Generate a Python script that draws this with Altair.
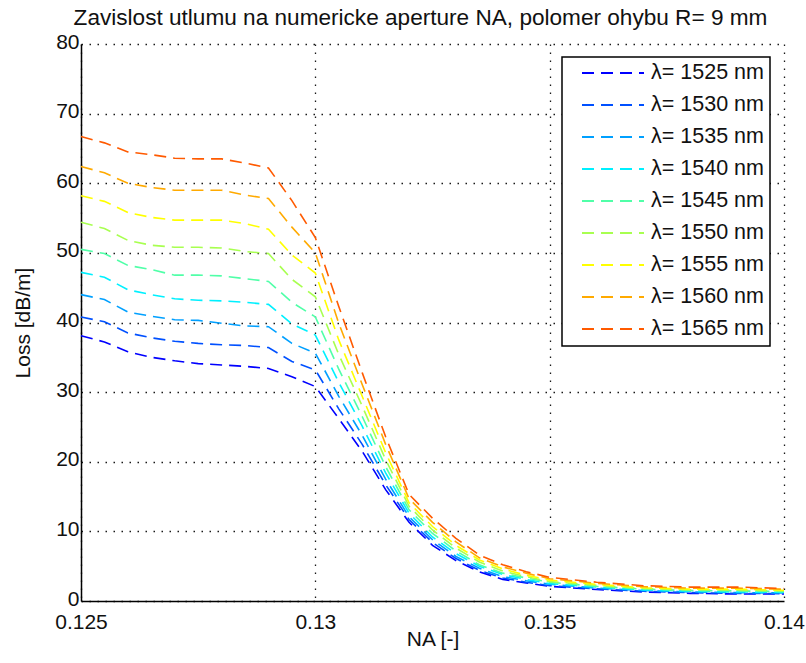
import altair as alt
import pandas as pd

# Numerical aperture samples
na = [0.125, 0.1255, 0.126, 0.1265, 0.127, 0.1275, 0.128, 0.1285, 0.129, 0.1295,
      0.13, 0.1305, 0.131, 0.1315, 0.132, 0.1325, 0.133, 0.1335, 0.134, 0.1345,
      0.135, 0.136, 0.137, 0.138, 0.139, 0.14]

wavelengths = [1525, 1530, 1535, 1540, 1545, 1550, 1555, 1560, 1565]

# Bending loss [dB/m] for each wavelength, R = 9 mm
loss_1525 = [38.1, 37.2, 35.8, 35.0, 34.5, 34.1, 33.9, 33.7, 33.4, 32.2,
             30.8, 26.2, 21.5, 16.0, 11.3, 8.0, 5.8, 4.2, 3.1, 2.6,
             2.1, 1.65, 1.3, 1.1, 1.0, 1.0]
loss_1530 = [40.8, 40.1, 38.5, 37.8, 37.3, 37.0, 36.8, 36.7, 36.4, 34.4,
             33.2, 27.6, 22.5, 16.7, 11.7, 8.4, 6.1, 4.4, 3.3, 2.7,
             2.2, 1.75, 1.4, 1.2, 1.1, 1.05]
loss_1535 = [44.0, 43.3, 41.5, 40.9, 40.4, 40.3, 39.9, 39.5, 39.4, 37.0,
             35.6, 29.4, 23.8, 17.5, 12.1, 8.8, 6.4, 4.7, 3.5, 2.9,
             2.4, 1.85, 1.5, 1.3, 1.2, 1.15]
loss_1540 = [47.2, 46.5, 44.7, 44.0, 43.4, 43.2, 43.1, 42.9, 42.6, 39.8,
             38.2, 31.4, 25.1, 18.4, 12.6, 9.2, 6.8, 5.0, 3.8, 3.1,
             2.5, 2.0, 1.6, 1.4, 1.3, 1.25]
loss_1545 = [50.5, 49.9, 48.2, 47.6, 46.8, 46.8, 46.7, 46.3, 45.9, 42.9,
             40.8, 33.3, 26.5, 19.3, 13.1, 9.7, 7.2, 5.2, 4.0, 3.3,
             2.7, 2.1, 1.7, 1.5, 1.45, 1.35]
loss_1550 = [54.4, 53.5, 51.8, 51.1, 50.8, 50.8, 50.7, 50.2, 49.9, 46.2,
             43.7, 35.4, 28.0, 20.3, 13.6, 10.2, 7.6, 5.6, 4.3, 3.5,
             2.8, 2.25, 1.8, 1.6, 1.55, 1.45]
loss_1555 = [58.2, 57.4, 55.8, 55.1, 54.7, 54.7, 54.7, 54.2, 53.4, 49.7,
             47.1, 37.5, 29.4, 21.3, 14.1, 10.7, 8.0, 5.9, 4.6, 3.7,
             3.0, 2.4, 1.9, 1.7, 1.7, 1.55]
loss_1560 = [62.4, 61.5, 60.0, 59.4, 59.0, 59.0, 59.0, 58.3, 57.8, 53.7,
             50.0, 39.9, 31.1, 22.5, 14.7, 11.3, 8.5, 6.2, 4.9, 4.0,
             3.2, 2.55, 2.05, 1.85, 1.85, 1.7]
loss_1565 = [66.7, 65.8, 64.5, 64.1, 63.6, 63.5, 63.5, 62.9, 62.2, 57.5,
             52.2, 42.3, 32.8, 23.6, 15.3, 11.9, 9.0, 6.6, 5.2, 4.2,
             3.4, 2.7, 2.2, 2.0, 2.0, 1.8]

series = [loss_1525, loss_1530, loss_1535, loss_1540, loss_1545,
          loss_1550, loss_1555, loss_1560, loss_1565]

line_colors = ["#0000ff", "#0050ff", "#00a0ff", "#00f0ff", "#50ffa8",
               "#a8ff50", "#ffff00", "#ffaa00", "#ff5a00"]

labels = [f"λ= {w} nm" for w in wavelengths]

rows = []
for lab, values in zip(labels, series):
    for x, y in zip(na, values):
        rows.append({"NA": x, "Loss": y, "lambda": lab})
df = pd.DataFrame(rows)

FONT = "Liberation Sans"

chart = alt.Chart(df).mark_line(
    strokeWidth=1.6, strokeDash=[12, 7]
).encode(
    x=alt.X("NA:Q", title="NA [-]",
            scale=alt.Scale(domain=[0.125, 0.14], nice=False, zero=False),
            axis=alt.Axis(values=[0.125, 0.13, 0.135, 0.14], format="~g",
                          labelPadding=10, titlePadding=-4)),
    y=alt.Y("Loss:Q", title="Loss [dB/m]",
            scale=alt.Scale(domain=[0, 80], nice=False),
            axis=alt.Axis(values=[0, 10, 20, 30, 40, 50, 60, 70, 80],
                          labelOffset=-2, titlePadding=22)),
    color=alt.Color("lambda:N", sort=labels,
                    scale=alt.Scale(domain=labels, range=line_colors),
                    legend=alt.Legend(
                        title=None, orient="none", legendX=481, legendY=13,
                        symbolType="stroke", symbolSize=3844,
                        symbolStrokeWidth=1.8, symbolDash=[12, 7],
                        symbolOffset=13,
                        labelFont=FONT, labelFontSize=21.5, labelColor="#111111",
                        labelOffset=6, clipHeight=20, rowPadding=10,
                        padding=6,
                        strokeColor="#000000", fillColor="#ffffff",
                        cornerRadius=0)),
    detail="lambda:N"
).properties(
    width=703, height=557,
    autosize="none",
    padding={"left": 81, "top": 44, "right": 22, "bottom": 62},
    title=alt.TitleParams(
        "Zavislost utlumu na numericke aperture NA, polomer ohybu R= 9 mm",
        font=FONT, fontSize=22.6, fontWeight="normal", color="#111111",
        anchor="middle", offset=1, dx=-12)
).configure_view(
    stroke=None
).configure_axis(
    domainColor="#000000", domainWidth=1.5,
    grid=True, gridColor="#000000", gridDash=[1.5, 6.5], gridWidth=1.3,
    gridOpacity=0.9,
    ticks=False, labelFlush=False,
    labelFont=FONT, labelFontSize=21, labelColor="#111111",
    titleFont=FONT, titleFontSize=21, titleFontWeight="normal",
    titleColor="#111111"
).configure_legend(
    strokeWidth=1.5
)

chart.save("out.html", embed_options={"renderer": "svg", "actions": False})
